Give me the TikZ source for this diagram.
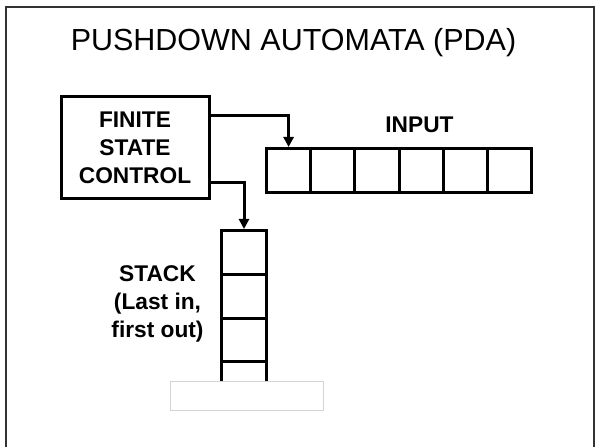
\documentclass[tikz,border=0pt]{standalone}
\usepackage{fontspec}
\setmainfont{Liberation Sans}
\usetikzlibrary{arrows.meta,positioning}
\definecolor{pdaFrame}{HTML}{333333}
\definecolor{pdaShade}{HTML}{D4D4D4}

\begin{document}
\begin{tikzpicture}[x=1bp,y=-1bp,
  every node/.style={font=\bfseries\fontsize{22.8}{28}\selectfont,inner sep=0pt},
  >={Triangle[length=10bp,width=10bp]},
  cell/.style={draw,line width=3bp,minimum width=44.2bp,minimum height=44bp},
  stk/.style={draw,line width=3bp,minimum width=45bp,minimum height=43.8bp},
  feed/.style={->,line width=3bp}]
  \useasboundingbox (0,0) rectangle (595,447);
  \draw[pdaFrame,line width=2bp] (6,460) -- (6,7) -- (593.5,7) -- (593.5,460);
  \node[anchor=base,font=\fontsize{30.6}{36}\selectfont] (title) at (293.5,51) {PUSHDOWN AUTOMATA (PDA)};
  \node[draw,line width=3bp,minimum width=148bp,minimum height=102bp,align=center] (fsc) at (135,148)
    {FINITE\\STATE\\CONTROL};
  % input tape
  \foreach \i in {1,...,6}
    \node[cell] (in\i) at ({288.6+44.2*(\i-1)},170.5) {};
  \node[anchor=base] (input) at (419.5,133) {INPUT};
  % stack
  \foreach \i in {1,...,4}
    \node[stk] (st\i) at (244,{252.4+43.8*(\i-1)}) {};
  \node[align=center] (stack) at (157.5,304) {STACK\\(Last in,\\first out)};
  \node[draw=pdaShade,fill=white,line width=1bp,minimum width=153bp,minimum height=29bp] (floor) at (246.5,395.5) {};
  \draw[feed] ([yshift=32bp]fsc.east) -| (in1.north);
  \draw[feed] ([yshift=-35bp]fsc.east) -| (st1.north);
\end{tikzpicture}
\end{document}
